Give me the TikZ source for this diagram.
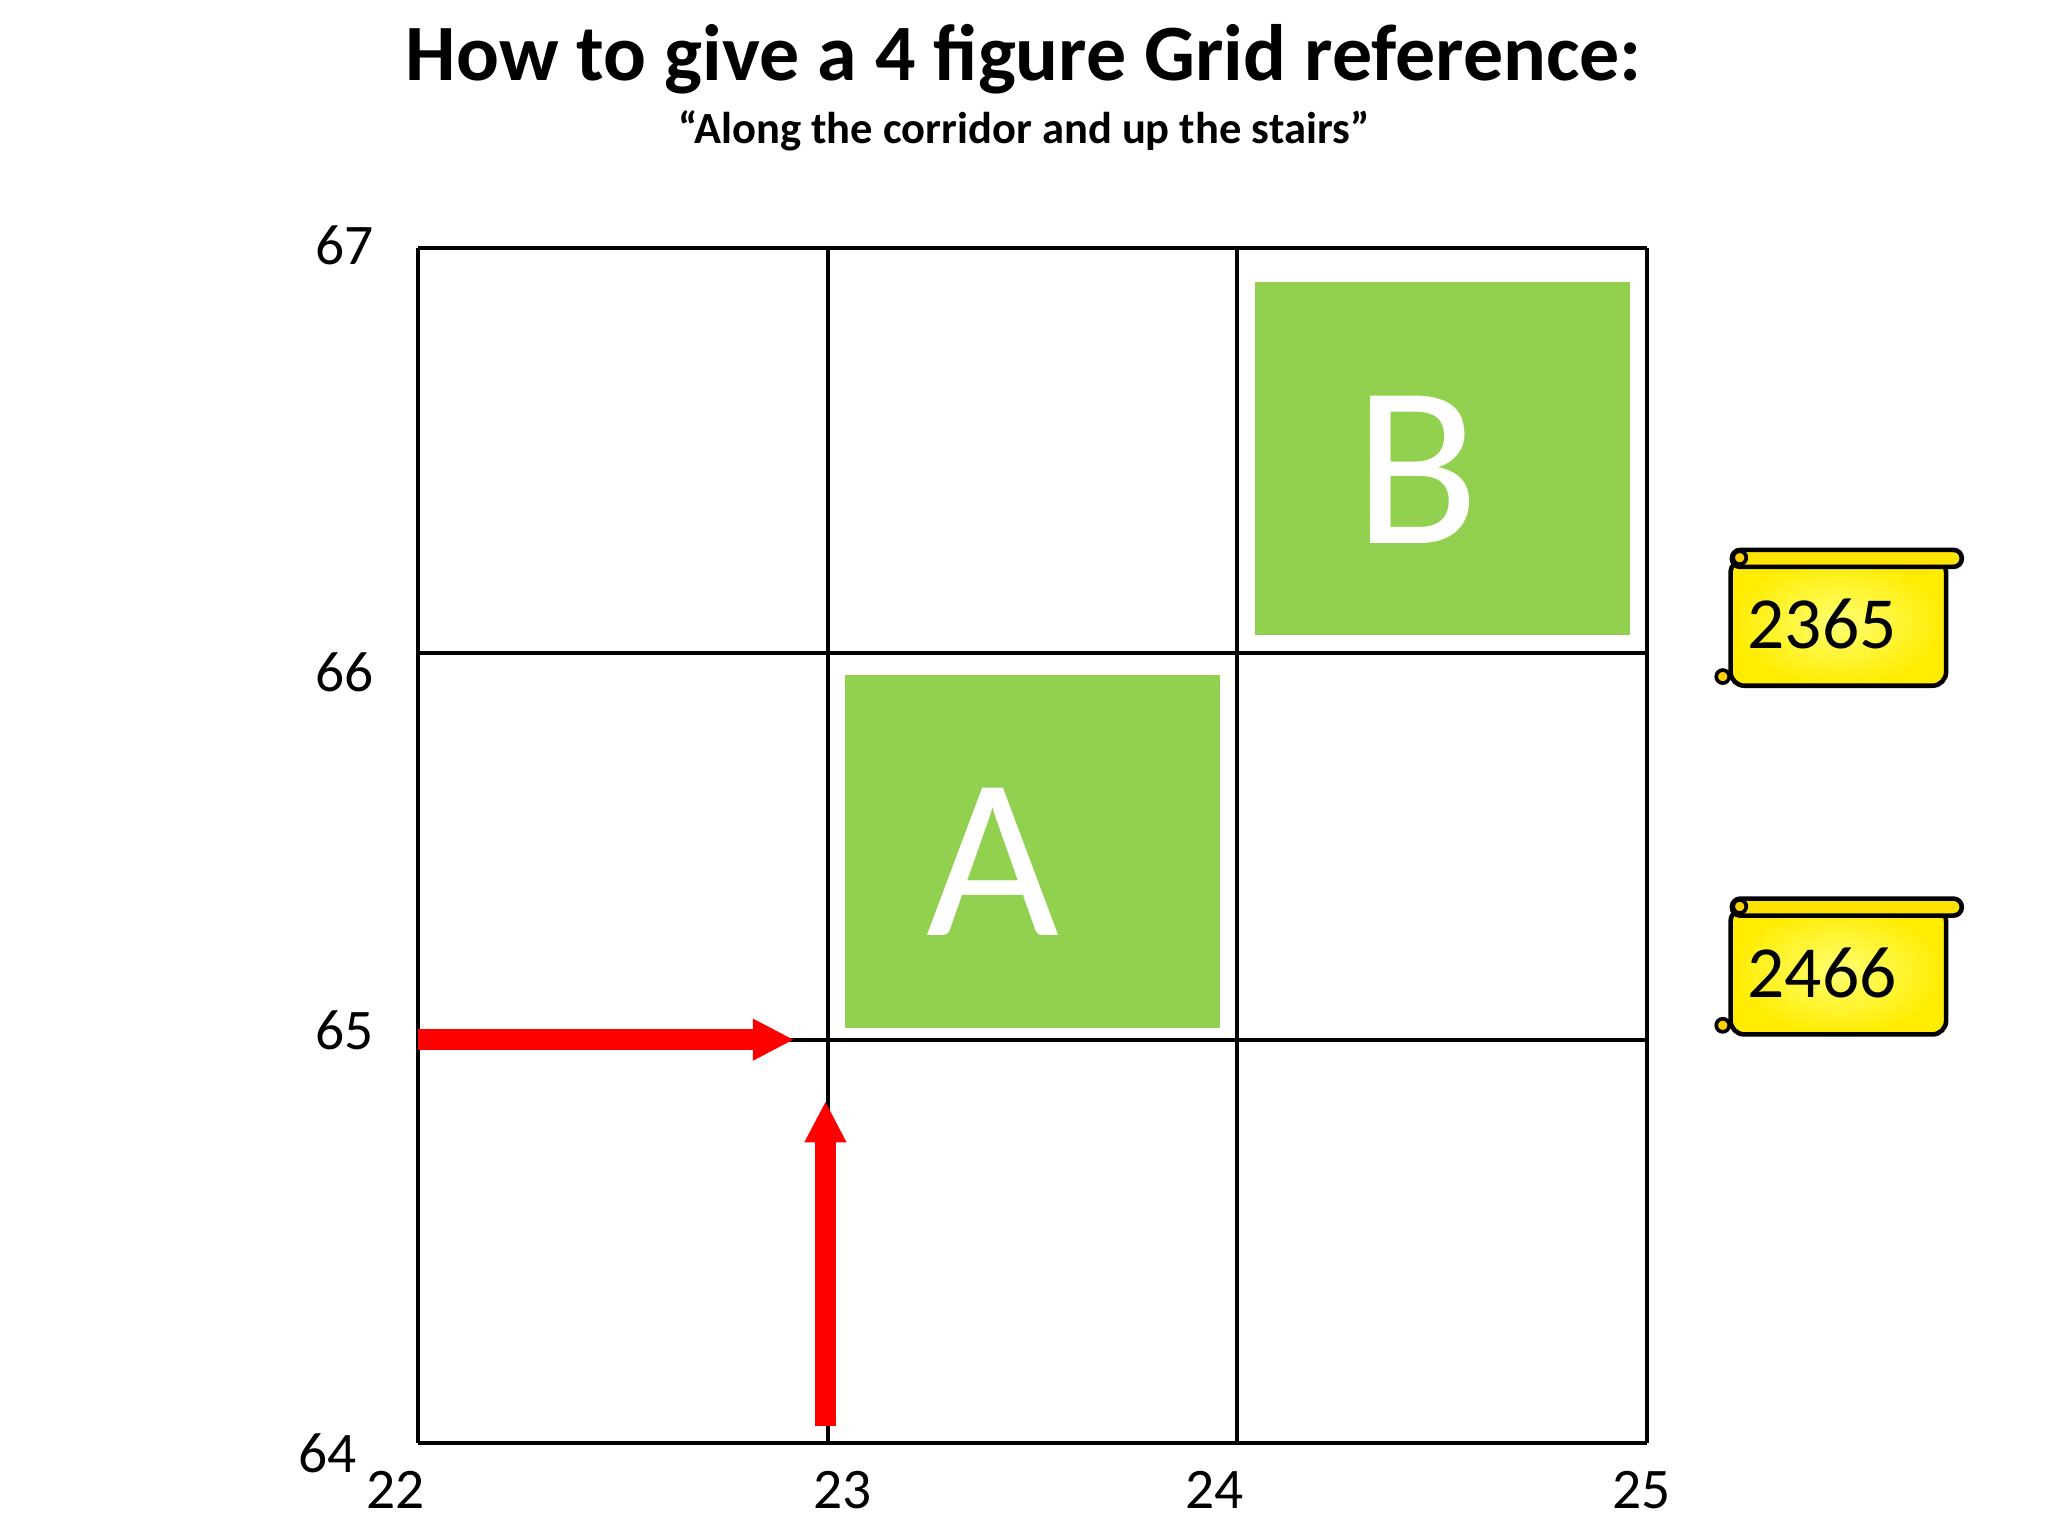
\documentclass[tikz,border=0pt]{standalone}
\usepackage{fontspec}
\setmainfont{Carlito}
\usetikzlibrary{arrows.meta}
\begin{document}
\begin{tikzpicture}[x=0.01cm,y=-0.01cm,
  gridline/.style={black,line width=0.8pt},
  axlab/.style={font=\fontsize{12.5}{14}\selectfont},
  bigletter/.style={text=white,font=\fontsize{50}{56}\selectfont},
  redarrow/.style={red,line width=4.5pt,-{Triangle[length=9pt,width=8.5pt]}},
  scrollbody/.style={draw=black,line width=1pt,rounded corners=3pt,inner color=yellow!55!white,outer color=yellow!85!orange},
  scrollroll/.style={draw=black,line width=1pt,fill=yellow!85!orange,rounded corners=1.8pt}]
\useasboundingbox (0,0) rectangle (1568,1176);
\definecolor{gr}{RGB}{146,208,80}
\node[font=\bfseries\fontsize{17.4}{20}\selectfont] (title) at (784,45) {How to give a 4 figure Grid reference:};
\node[font=\bfseries\fontsize{9.7}{11}\selectfont] (sub) at (784,100) {“Along the corridor and up the stairs”};
\fill[gr] (647,517) rectangle (934,787);
\fill[gr] (961,216) rectangle (1248,486);
\node[bigletter] (A) at (760,660) {A};
\node[bigletter] (B) at (1085,360) {B};
\foreach \x in {320,634,947,1261} \draw[gridline] (\x,190) -- (\x,1105);
\foreach \y in {190,500,796,1105} \draw[gridline] (320,\y) -- (1261,\y);
\node[axlab] (y67) at (264,188) {67};
\node[axlab] (y66) at (264,515) {66};
\node[axlab] (y65) at (264,789) {65};
\node[axlab] (y64) at (251,1113) {64};
\node[axlab] (x22) at (303,1141) {22};
\node[axlab] (x23) at (645,1141) {23};
\node[axlab] (x24) at (930,1141) {24};
\node[axlab] (x25) at (1257,1141) {25};
\coordinate (h1) at (320,796); \coordinate (h2) at (608,796);
\coordinate (v1) at (632,1092); \coordinate (v2) at (632,843);
\draw[redarrow] (h1) -- (h2);
\draw[redarrow] (v1) -- (v2);
\foreach \dy/\t/\n in {0/2365/s1,267/2466/s2}{
  \begin{scope}[yshift=-\dy*0.01cm]
  \path[scrollbody] (1325,428) rectangle (1490,525);
  \path[scrollroll] (1326,421) rectangle (1502,434);
  \draw[line width=0.8pt,fill=yellow!70!orange] (1332,427) circle (5);
  \draw[line width=0.8pt,fill=yellow!70!orange] (1319,518) circle (5);
  \node[font=\fontsize{16}{18}\selectfont] (\n) at (1395,478) {\t};
  \end{scope}}
\end{tikzpicture}
\end{document}
